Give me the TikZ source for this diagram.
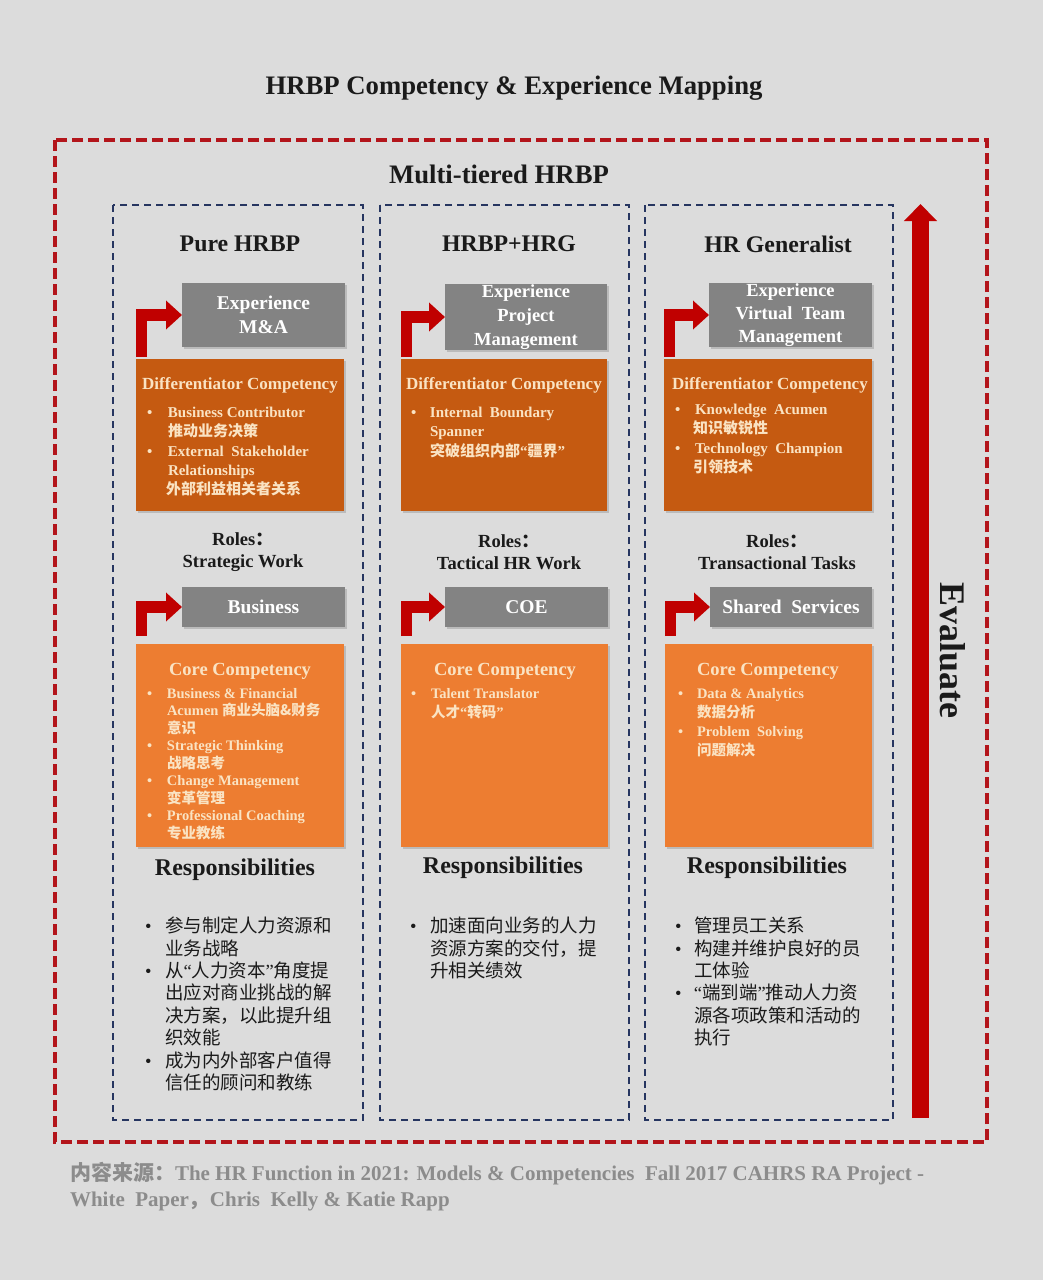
\documentclass[tikz,border=0pt]{standalone}
\usepackage{fontspec}
\setmainfont{Liberation Serif}
\newfontfamily\cjk{Noto Sans CJK SC}
\usetikzlibrary{arrows.meta,shadows,calc}
\definecolor{bgc}{HTML}{DCDCDC}
\definecolor{redd}{HTML}{C00000}
\definecolor{outred}{HTML}{B3151B}
\definecolor{navy}{HTML}{263560}
\definecolor{gbox}{HTML}{838383}
\definecolor{dorg}{HTML}{C55A11}
\definecolor{lorg}{HTML}{ED7D31}
\definecolor{cream}{HTML}{FAE3C3}
\definecolor{ink}{HTML}{1A1A1A}
\definecolor{foot}{HTML}{8C8C8C}
\newcommand\myopq{{\rmfamily “}}
\newcommand\myclq{{\rmfamily ”}}
\begin{document}
\begin{tikzpicture}[x=1pt,y=-1pt,
  every node/.style={inner sep=0pt, outer sep=0pt},
  bigtitle/.style={font=\bfseries\fontsize{26.7}{30}\selectfont, text=ink},
  heading/.style={font=\bfseries\fontsize{23.8}{28}\selectfont, text=ink},
  boxshadow/.style={drop shadow={shadow xshift=2pt, shadow yshift=-2pt, opacity=0.35}},
  grayb/.style={fill=gbox, text=white, align=center, boxshadow,
    font=\bfseries\fontsize{19.5}{24}\selectfont},
  diffb/.style={fill=dorg, boxshadow},
  coreb/.style={fill=lorg, boxshadow},
  boxtitle/.style={text=cream, font=\bfseries\fontsize{17}{20}\selectfont},
  boxlist/.style={text=cream, align=left, anchor=north west,
    font=\bfseries\fontsize{15}{19.3}\selectfont},
  roles/.style={align=center, text=ink, font=\bfseries\fontsize{18.5}{22}\selectfont},
  resphead/.style={text=ink, font=\bfseries\fontsize{24}{28}\selectfont},
  resplist/.style={align=left, anchor=north west, text=ink,
    font=\cjk\fontsize{18.5}{22.4}\selectfont},
  bentarr/.style={draw=redd, line width=11.5pt, -{Triangle[width=28pt,length=16pt]}},
  outerframe/.style={draw=outred, line width=3.5pt, dash pattern=on 11pt off 5pt},
  colframe/.style={draw=navy, line width=1.6pt, dash pattern=on 7pt off 5pt}
]
\useasboundingbox (0,0) rectangle (1043,1280);
\fill[bgc] (0,0) rectangle (1043,1280);

% titles
\node[bigtitle] (title) at (514,88) {HRBP Competency \& Experience Mapping};
\draw[outerframe] (55,140) rectangle (987,1142);
\node[bigtitle] (multi) at (499,174) {Multi-tiered HRBP};

% column frames
\draw[colframe] (113,205) rectangle (363,1120);
\draw[colframe] (380,205) rectangle (629,1120);
\draw[colframe] (645,205) rectangle (893,1120);

\node[heading] (h1) at (240,244) {Pure HRBP};
\node[heading] (h2) at (509,244) {HRBP+HRG};
\node[heading] (h3) at (778,244) {HR Generalist};

% experience boxes
\node[grayb, minimum width=163pt, minimum height=64pt] (e1) at (263.5,315) {Experience\\M\&A};
\node[grayb, minimum width=162pt, minimum height=66pt, font=\bfseries\fontsize{18.5}{24}\selectfont] (e2) at (526,317) {Experience\\Project\\Management};
\node[grayb, minimum width=163pt, minimum height=64pt, font=\bfseries\fontsize{18.5}{23}\selectfont] (e3) at (790.5,315) {Experience\\Virtual\ \ Team\\Management};

% differentiator boxes
\node[diffb, minimum width=208pt, minimum height=152pt] (d1) at (240,435) {};
\node[diffb, minimum width=206pt, minimum height=152pt] (d2) at (504,435) {};
\node[diffb, minimum width=208pt, minimum height=152pt] (d3) at (768,435) {};

\draw[bentarr, shorten <=2pt] ($(d1.north west)+(5.5,0)$) |- (e1.west);
\draw[bentarr, shorten <=2pt] ($(d2.north west)+(5.5,0)$) |- (e2.west);
\draw[bentarr, shorten <=2pt] ($(d3.north west)+(5.5,0)$) |- (e3.west);

\node[boxtitle] (d1h) at (240,385) {Differentiator Competency};
\node[boxtitle] (d2h) at (504,385) {Differentiator Competency};
\node[boxtitle] (d3h) at (770,385) {Differentiator Competency};

\node[boxlist] (d1t) at (147,407) {\makebox[21pt][l]{•}Business Contributor\\
\hspace*{21pt}{\cjk 推动业务决策}\\
\makebox[21pt][l]{•}External\ \ Stakeholder\\
\hspace*{21pt}Relationships\\
\hspace*{19pt}{\cjk 外部利益相关者关系}};
\node[boxlist] (d2t) at (411,407) {\makebox[19pt][l]{•}Internal\ \ Boundary\\
\hspace*{19pt}Spanner\\
\hspace*{19pt}{\cjk 突破组织内部\myopq 疆界\myclq}};
\node[boxlist] (d3t) at (675,404) {\makebox[20pt][l]{•}Knowledge\ \ Acumen\\
\hspace*{18pt}{\cjk 知识敏锐性}\\
\makebox[20pt][l]{•}Technology\ \ Champion\\
\hspace*{18pt}{\cjk 引领技术}};

% roles
\node[roles] (ro1) at (243,552) {Roles{\cjk ：}\\Strategic Work};
\node[roles] (ro2) at (509,552) {Roles{\cjk ：}\\Tactical HR Work};
\node[roles] (ro3) at (777,552) {Roles{\cjk ：}\\Transactional Tasks};

% business boxes
\node[grayb, minimum width=163pt, minimum height=40pt] (b1) at (263.5,607) {Business};
\node[grayb, minimum width=163pt, minimum height=40pt] (b2) at (526.5,607) {COE};
\node[grayb, minimum width=162pt, minimum height=40pt] (b3) at (791,607) {Shared\ \ Services};

% core boxes
\node[coreb, minimum width=208pt, minimum height=203pt] (c1) at (240,745.5) {};
\node[coreb, minimum width=207pt, minimum height=203pt] (c2) at (504.5,745.5) {};
\node[coreb, minimum width=207pt, minimum height=203pt] (c3) at (768.5,745.5) {};

\draw[bentarr, shorten <=8pt] ($(c1.north west)+(5.5,0)$) |- (b1.west);
\draw[bentarr, shorten <=8pt] ($(c2.north west)+(5.5,0)$) |- (b2.west);
\draw[bentarr, shorten <=8pt] ($(c3.north west)+(5.5,0)$) |- (b3.west);

\node[boxtitle, font=\bfseries\fontsize{18.5}{22}\selectfont] (c1h) at (240,671) {Core Competency};
\node[boxtitle, font=\bfseries\fontsize{18.5}{22}\selectfont] (c2h) at (505,671) {Core Competency};
\node[boxtitle, font=\bfseries\fontsize{18.5}{22}\selectfont] (c3h) at (768,671) {Core Competency};

\node[boxlist, font=\bfseries\fontsize{14.5}{17.5}\selectfont] (c1t) at (147,688) {\makebox[20pt][l]{•}Business \& Financial\\
\hspace*{20pt}Acumen {\cjk 商业头脑\&财务}\\
\hspace*{20pt}{\cjk 意识}\\
\makebox[20pt][l]{•}Strategic Thinking\\
\hspace*{20pt}{\cjk 战略思考}\\
\makebox[20pt][l]{•}Change Management\\
\hspace*{20pt}{\cjk 变革管理}\\
\makebox[20pt][l]{•}Professional Coaching\\
\hspace*{20pt}{\cjk 专业教练}};
\node[boxlist, font=\bfseries\fontsize{14.5}{19}\selectfont] (c2t) at (411,688) {\makebox[20pt][l]{•}Talent Translator\\
\hspace*{20pt}{\cjk 人才\myopq 转码\myclq}};
\node[boxlist, font=\bfseries\fontsize{14.5}{19.3}\selectfont] (c3t) at (678,688) {\makebox[19pt][l]{•}Data \& Analytics\\
\hspace*{19pt}{\cjk 数据分析}\\
\makebox[19pt][l]{•}Problem\ \ Solving\\
\hspace*{19pt}{\cjk 问题解决}};

% responsibilities
\node[resphead] (rh1) at (235,870) {Responsibilities};
\node[resphead] (rh2) at (503,868) {Responsibilities};
\node[resphead] (rh3) at (767,868) {Responsibilities};

\node[resplist] (r1t) at (145,917) {\makebox[20pt][l]{\rmfamily •}参与制定人力资源和\\
\hspace*{20pt}业务战略\\
\makebox[20pt][l]{\rmfamily •}从\myopq 人力资本\myclq 角度提\\
\hspace*{20pt}出应对商业挑战的解\\
\hspace*{20pt}决方案，以此提升组\\
\hspace*{20pt}织效能\\
\makebox[20pt][l]{\rmfamily •}成为内外部客户值得\\
\hspace*{20pt}信任的顾问和教练};
\node[resplist] (r2t) at (410,917) {\makebox[20pt][l]{\rmfamily •}加速面向业务的人力\\
\hspace*{20pt}资源方案的交付，提\\
\hspace*{20pt}升相关绩效};
\node[resplist] (r3t) at (675,917) {\makebox[19pt][l]{\rmfamily •}管理员工关系\\
\makebox[19pt][l]{\rmfamily •}构建并维护良好的员\\
\hspace*{19pt}工体验\\
\makebox[19pt][l]{\rmfamily •}\myopq 端到端\myclq 推动人力资\\
\hspace*{19pt}源各项政策和活动的\\
\hspace*{19pt}执行};

% evaluate arrow
\coordinate (evb) at (920.5,1118);
\coordinate (evt) at (920.5,204);
\draw[redd, line width=17pt, -{Triangle[width=32pt,length=17pt]}] (evb) -- (evt);
\node[rotate=-90, text=ink, font=\bfseries\fontsize{36}{40}\selectfont] (ev) at (953,650) {Evaluate};

% source
\node[anchor=north west, align=left, text=foot, font=\bfseries\fontsize{21}{26}\selectfont] (src) at (70,1162)
 {{\cjk 内容来源：}The HR Function in 2021: Models \& Competencies\ \ Fall 2017 CAHRS RA Project -\\
 White\ \ Paper{\cjk ，}Chris\ \ Kelly \& Katie Rapp};
\end{tikzpicture}
\end{document}
